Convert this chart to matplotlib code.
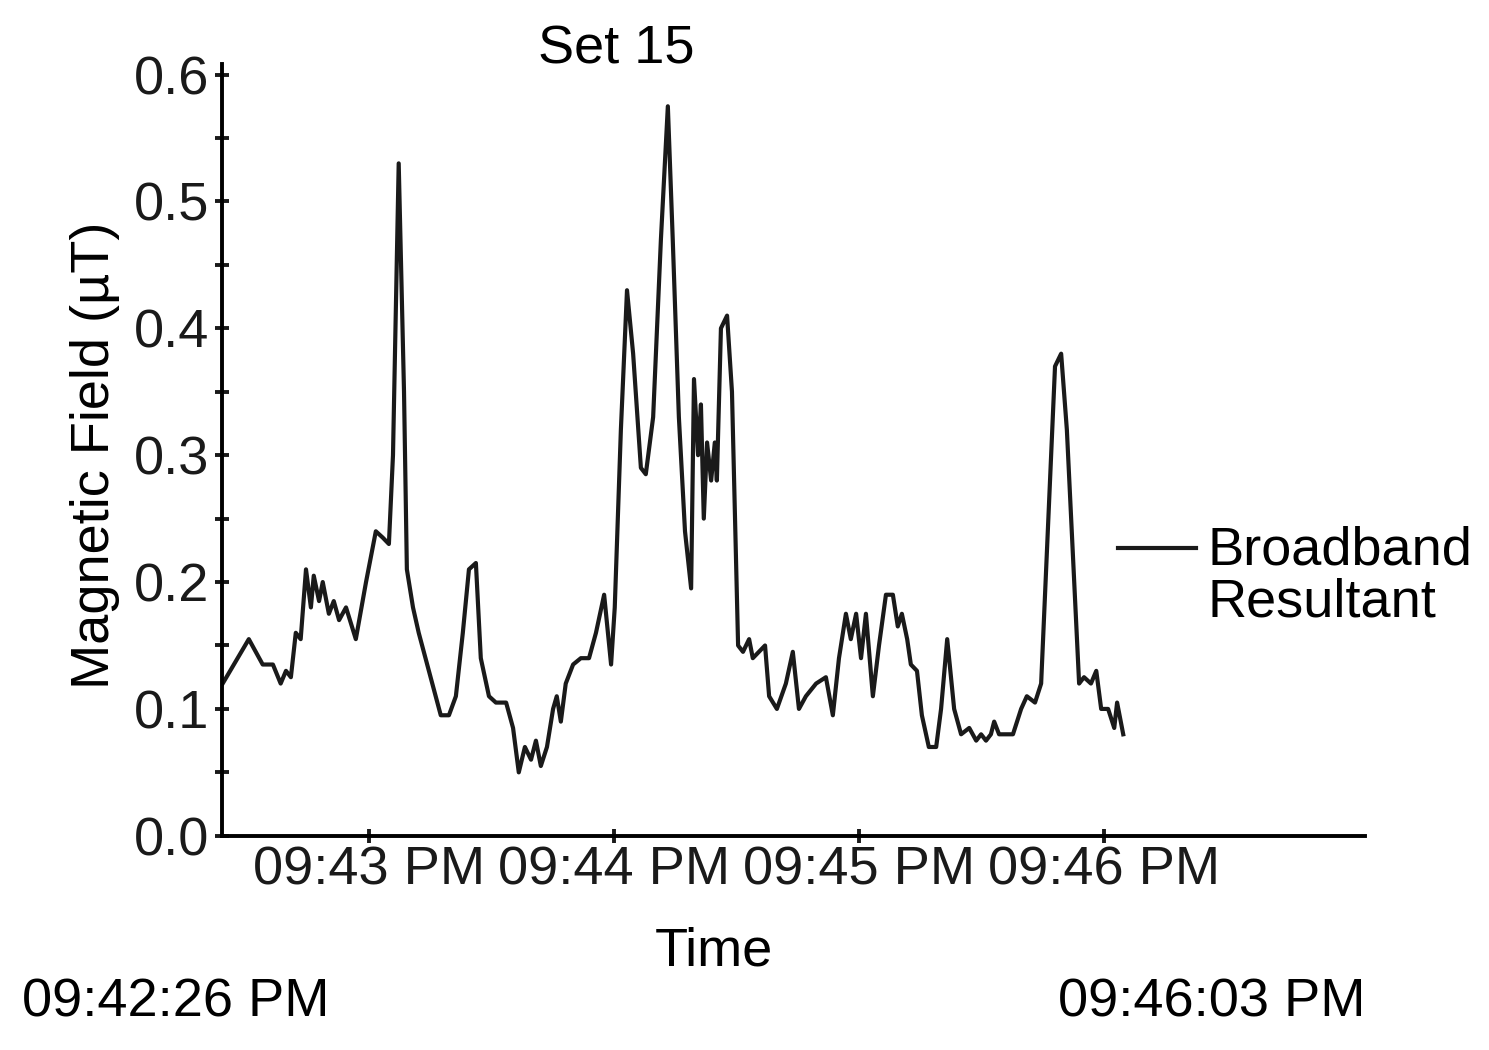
import matplotlib.pyplot as plt
from matplotlib.lines import Line2D
from matplotlib.ticker import MultipleLocator

plt.rcParams['font.family'] = ['Liberation Sans', 'DejaVu Sans']

# seconds after 09:42:00 PM
t_sec = [24.2, 30.6, 34.0, 36.5, 38.4, 39.7, 40.9, 42.1, 43.3, 44.6, 45.8, 46.5, 47.8, 48.7,
         50.2, 51.4, 52.7, 54.4, 56.8, 59.3, 61.7, 63.4, 64.9, 65.9, 67.3, 68.6, 69.3, 70.8,
         72.2, 74.7, 77.6, 79.6, 81.3, 83.0, 84.5, 86.2, 87.4, 89.4, 91.1, 93.6, 95.3, 96.7,
         98.2, 99.7, 100.9, 102.1, 103.6, 105.1, 106.0, 107.0, 108.2, 110.0, 111.9, 113.9,
         115.6, 117.6, 119.3, 120.2, 121.7, 123.2, 124.7, 126.6, 127.8, 129.6, 131.5, 133.2,
         134.4, 135.9, 137.4, 138.9, 139.6, 140.6, 141.3, 142.0, 142.8, 143.8, 144.7, 145.2,
         146.2, 147.7, 148.9, 150.4, 151.6, 153.1, 154.0, 155.5, 157.0, 158.0, 159.9, 162.1,
         163.8, 165.3, 167.0, 169.5, 171.9, 173.6, 175.1, 176.8, 178.0, 179.3, 180.5, 181.7,
         183.4, 184.9, 186.6, 188.3, 189.5, 190.5, 191.8, 192.7, 194.2, 195.4, 197.1, 198.9,
         200.1, 201.6, 203.3, 205.0, 207.0, 208.7, 209.9, 211.1, 212.3, 213.1, 214.3, 216.0,
         217.7, 219.7, 221.1, 223.1, 224.6, 226.5, 228.0, 229.5, 230.9, 232.4, 233.9, 235.1,
         236.8, 238.1, 239.3, 241.0, 242.5, 243.2, 244.7]
field_uT = [0.12, 0.155, 0.135, 0.135, 0.12, 0.13, 0.125, 0.16, 0.155, 0.21, 0.18, 0.205, 0.185, 0.2,
            0.175, 0.185, 0.17, 0.18, 0.155, 0.2, 0.24, 0.235, 0.23, 0.3, 0.53, 0.35, 0.21, 0.18,
            0.16, 0.13, 0.095, 0.095, 0.11, 0.16, 0.21, 0.215, 0.14, 0.11, 0.105, 0.105, 0.085, 0.05,
            0.07, 0.06, 0.075, 0.055, 0.07, 0.1, 0.11, 0.09, 0.12, 0.135, 0.14, 0.14,
            0.16, 0.19, 0.135, 0.18, 0.32, 0.43, 0.38, 0.29, 0.285, 0.33, 0.47, 0.575,
            0.47, 0.33, 0.24, 0.195, 0.36, 0.3, 0.34, 0.25, 0.31, 0.28, 0.31, 0.28,
            0.4, 0.41, 0.35, 0.15, 0.145, 0.155, 0.14, 0.145, 0.15, 0.11, 0.1, 0.12,
            0.145, 0.1, 0.11, 0.12, 0.125, 0.095, 0.14, 0.175, 0.155, 0.175, 0.14, 0.175,
            0.11, 0.15, 0.19, 0.19, 0.165, 0.175, 0.155, 0.135, 0.13, 0.095, 0.07, 0.07,
            0.1, 0.155, 0.1, 0.08, 0.085, 0.075, 0.08, 0.075, 0.08, 0.09, 0.08, 0.08,
            0.08, 0.1, 0.11, 0.105, 0.12, 0.26, 0.37, 0.38, 0.32, 0.22, 0.12, 0.125,
            0.12, 0.13, 0.1, 0.1, 0.085, 0.105, 0.08]
tick_sec = [60, 120, 180, 240]
tick_labels = ['09:43 PM', '09:44 PM', '09:45 PM', '09:46 PM']

FS = 39
fig = plt.figure(figsize=(14.89, 10.5), dpi=100)
ax = fig.add_axes([0.149, 0.204, 0.768, 0.725])
ax.plot(t_sec, field_uT, color='#1a1a1a', lw=3, solid_joinstyle='round')

ax.set_xlim(24, 304)
ax.set_ylim(0, 0.6)
for s in ['top', 'right']:
    ax.spines[s].set_visible(False)
for s in ['left', 'bottom']:
    ax.spines[s].set_linewidth(2.8)
ax.spines['left'].set_bounds(0, 0.608)
ax.yaxis.set_major_locator(MultipleLocator(0.1))
ax.yaxis.set_minor_locator(MultipleLocator(0.05))
ax.set_yticklabels([f'{v:.1f}' for v in ax.get_yticks()])
ax.set_xticks(tick_sec)
ax.set_xticklabels(tick_labels)
ax.tick_params(axis='both', which='both', direction='inout', width=2.8, length=10,
               labelsize=FS, colors='#1a1a1a')
ax.tick_params(axis='y', pad=4)
ax.tick_params(axis='x', pad=2)
ax.set_xlabel('Time', fontsize=FS, labelpad=22, x=0.43)
ax.set_ylabel('Magnetic Field (\u00b5T)', fontsize=FS, labelpad=10)
ax.set_title('Set 15', fontsize=FS, x=0.345, pad=0)

fig.add_artist(Line2D([0.751, 0.803], [0.478, 0.478], color='#1a1a1a', lw=3))
fig.text(0.811, 0.451, 'Broadband\nResultant', fontsize=FS, va='center', linespacing=1.05)
fig.text(0.015, 0.045, '09:42:26 PM', fontsize=FS, va='center')
fig.text(0.917, 0.045, '09:46:03 PM', fontsize=FS, va='center', ha='right')

fig.savefig('out.png', dpi=100)
